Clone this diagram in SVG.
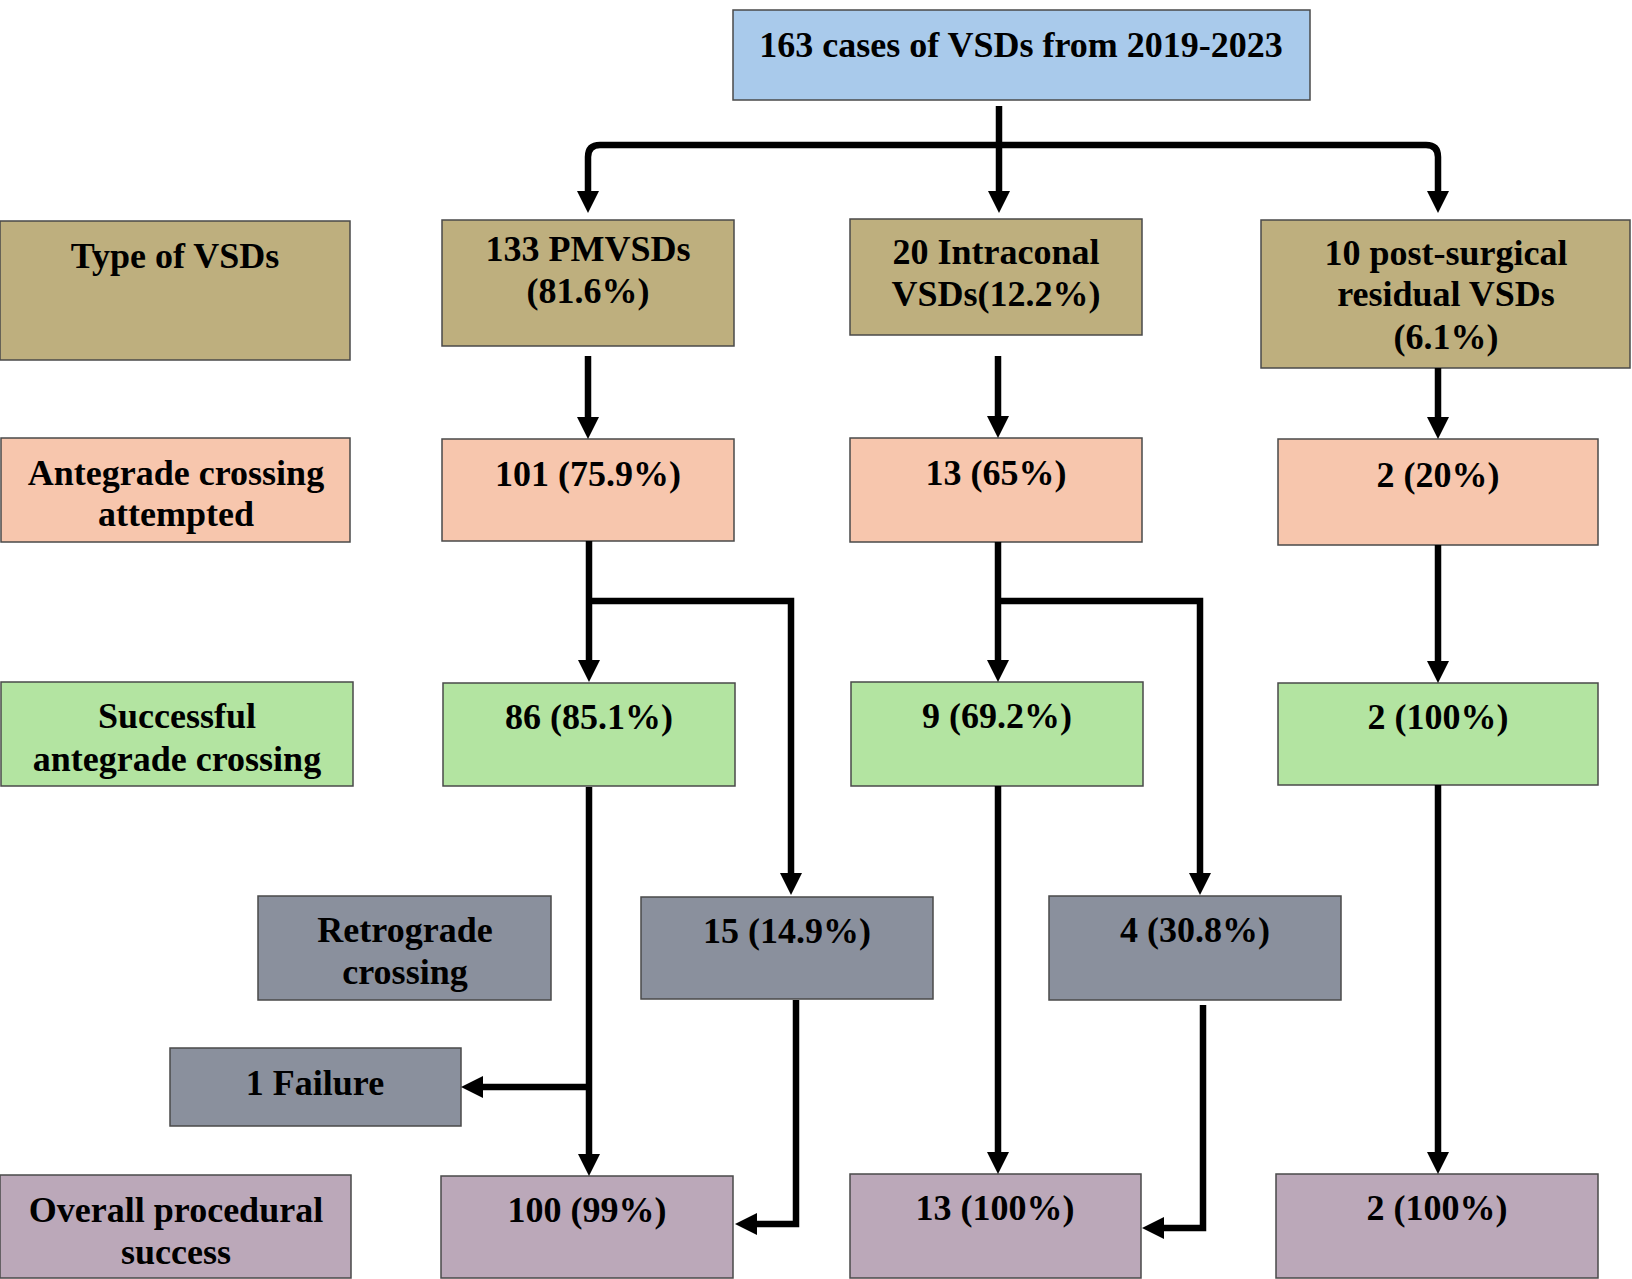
<svg xmlns="http://www.w3.org/2000/svg" width="1632" height="1279" viewBox="0 0 1632 1279">
<style>
.box{stroke:#4a4a4a;stroke-width:1.5}
.blue{fill:#A9CAEB}
.tan{fill:#BEAF7E}
.salmon{fill:#F7C6AD}
.green{fill:#B3E4A1}
.gray{fill:#8A909D}
.mauve{fill:#BBA8B9}
text{font-family:"Liberation Serif","Times New Roman",serif;font-weight:bold;font-size:36px;fill:#000;text-anchor:middle}
.conn path{fill:none;stroke:#000;stroke-width:6.5;stroke-linejoin:miter}
</style>
<defs>
<marker id="arr" markerUnits="userSpaceOnUse" markerWidth="22" markerHeight="22" refX="0" refY="11" orient="auto" viewBox="0 0 22 22" overflow="visible">
<path d="M0,0 L22,11 L0,22 Z" fill="#000"/>
</marker>
</defs>
<rect width="1632" height="1279" fill="#fff"/>

<g id="n-top"><rect class="box blue" x="733" y="10" width="577" height="90"/><text x="1021" y="57">163 cases of VSDs from 2019-2023</text></g>

<g id="n-type"><rect class="box tan" x="0" y="221" width="350" height="139"/><text x="175" y="268">Type of VSDs</text></g>
<g id="n-pm"><rect class="box tan" x="442" y="220" width="292" height="126"/><text x="588" y="261">133 PMVSDs</text><text x="588" y="303">(81.6%)</text></g>
<g id="n-intra"><rect class="box tan" x="850" y="219" width="292" height="116"/><text x="996" y="264">20 Intraconal</text><text x="996" y="306">VSDs(12.2%)</text></g>
<g id="n-post"><rect class="box tan" x="1261" y="220" width="369" height="148"/><text x="1446" y="265">10 post-surgical</text><text x="1446" y="306">residual VSDs</text><text x="1446" y="349">(6.1%)</text></g>

<g id="n-ante"><rect class="box salmon" x="1" y="438" width="349" height="104"/><text x="176" y="485">Antegrade crossing</text><text x="176" y="526">attempted</text></g>
<g id="n-101"><rect class="box salmon" x="442" y="439" width="292" height="102"/><text x="588" y="486">101 (75.9%)</text></g>
<g id="n-13a"><rect class="box salmon" x="850" y="438" width="292" height="104"/><text x="996" y="485">13 (65%)</text></g>
<g id="n-2a"><rect class="box salmon" x="1278" y="439" width="320" height="106"/><text x="1438" y="487">2 (20%)</text></g>

<g id="n-succ"><rect class="box green" x="1" y="682" width="352" height="104"/><text x="177" y="728">Successful</text><text x="177" y="771">antegrade crossing</text></g>
<g id="n-86"><rect class="box green" x="443" y="683" width="292" height="103"/><text x="589" y="729">86 (85.1%)</text></g>
<g id="n-9"><rect class="box green" x="851" y="682" width="292" height="104"/><text x="997" y="728">9 (69.2%)</text></g>
<g id="n-2b"><rect class="box green" x="1278" y="683" width="320" height="102"/><text x="1438" y="729">2 (100%)</text></g>

<g id="n-retro"><rect class="box gray" x="258" y="896" width="293" height="104"/><text x="405" y="942">Retrograde</text><text x="405" y="984">crossing</text></g>
<g id="n-15"><rect class="box gray" x="641" y="897" width="292" height="102"/><text x="787" y="943">15 (14.9%)</text></g>
<g id="n-4"><rect class="box gray" x="1049" y="896" width="292" height="104"/><text x="1195" y="942">4 (30.8%)</text></g>
<g id="n-fail"><rect class="box gray" x="170" y="1048" width="291" height="78"/><text x="315" y="1095">1 Failure</text></g>

<g id="n-overall"><rect class="box mauve" x="0" y="1175" width="351" height="103"/><text x="176" y="1222">Overall procedural</text><text x="176" y="1264">success</text></g>
<g id="n-100"><rect class="box mauve" x="441" y="1176" width="292" height="102"/><text x="587" y="1222">100 (99%)</text></g>
<g id="n-13b"><rect class="box mauve" x="850" y="1174" width="291" height="104"/><text x="995" y="1220">13 (100%)</text></g>
<g id="n-2c"><rect class="box mauve" x="1276" y="1174" width="322" height="104"/><text x="1437" y="1220">2 (100%)</text></g>

<g id="connectors" class="conn">
<path d="M999,106 V191" marker-end="url(#arr)"/>
<path d="M999,145 H600 Q588,145 588,157 V191" marker-end="url(#arr)"/>
<path d="M999,145 H1426 Q1438,145 1438,157 V191" marker-end="url(#arr)"/>
<path d="M588,356 V417" marker-end="url(#arr)"/>
<path d="M998,356 V416" marker-end="url(#arr)"/>
<path d="M1438,368 V417" marker-end="url(#arr)"/>
<path d="M589,541 V660" marker-end="url(#arr)"/>
<path d="M589,601 H791 V873" marker-end="url(#arr)"/>
<path d="M998,542 V660" marker-end="url(#arr)"/>
<path d="M998,601 H1200 V873" marker-end="url(#arr)"/>
<path d="M1438,545 V661" marker-end="url(#arr)"/>
<path d="M589,787 V1154" marker-end="url(#arr)"/>
<path d="M589,1087 H483" marker-end="url(#arr)"/>
<path d="M796,1000 V1224 H757" marker-end="url(#arr)"/>
<path d="M998,786 V1152" marker-end="url(#arr)"/>
<path d="M1203,1005 V1228 H1164" marker-end="url(#arr)"/>
<path d="M1438,785 V1152" marker-end="url(#arr)"/>
</g>
</svg>
